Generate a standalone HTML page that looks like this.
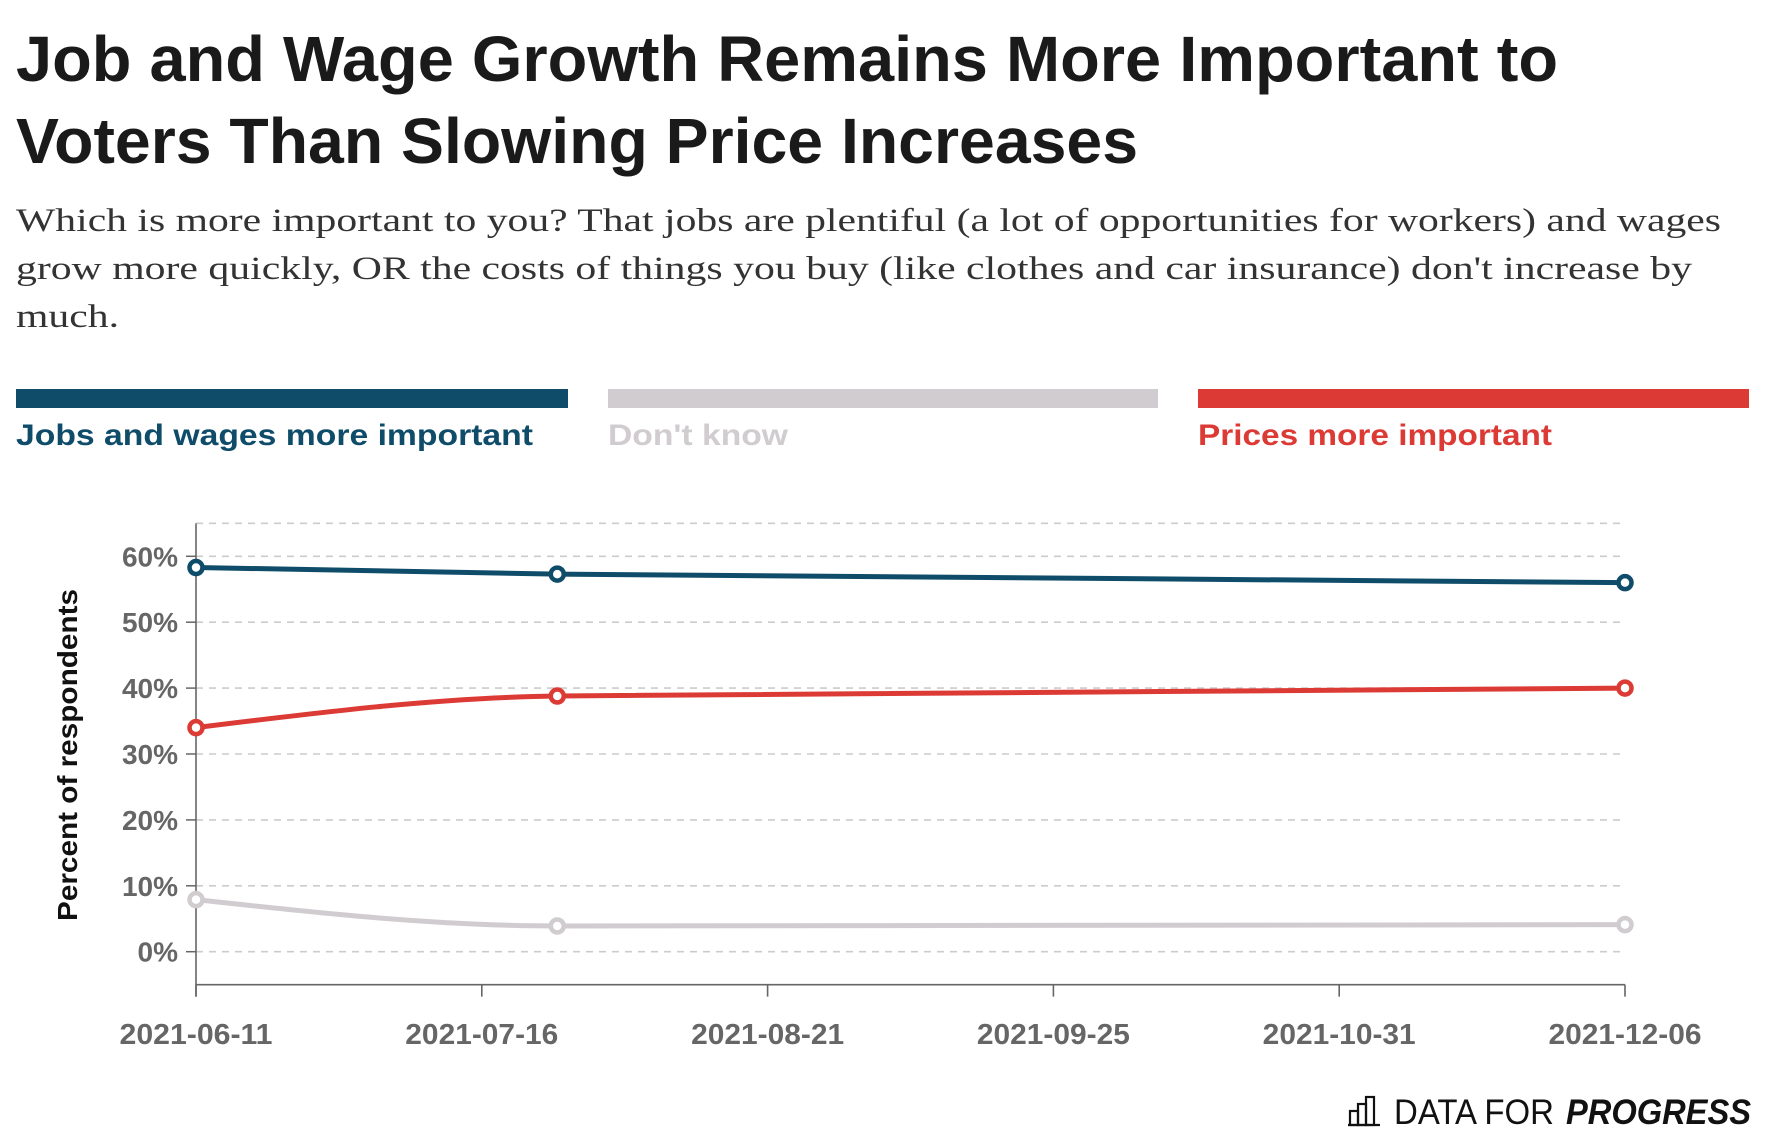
<!DOCTYPE html>
<html><head><meta charset="utf-8"><style>
html,body{margin:0;padding:0;background:#fff;}
svg{display:block;font-family:"Liberation Sans",sans-serif;}
</style></head><body>
<svg id="chart" width="1766" height="1144" viewBox="0 0 1766 1144">
<g font-weight="bold" font-size="64" fill="#1a1a1a">
<text x="16" y="81" textLength="1542" lengthAdjust="spacingAndGlyphs">Job and Wage Growth Remains More Important to</text>
<text x="16" y="163" textLength="1122" lengthAdjust="spacingAndGlyphs">Voters Than Slowing Price Increases</text>
</g>
<g font-family="'Liberation Serif',serif" font-size="33" fill="#333">
<text x="16" y="231" textLength="1705" lengthAdjust="spacingAndGlyphs">Which is more important to you? That jobs are plentiful (a lot of opportunities for workers) and wages</text>
<text x="16" y="279" textLength="1676" lengthAdjust="spacingAndGlyphs">grow more quickly, OR the costs of things you buy (like clothes and car insurance) don't increase by</text>
<text x="16" y="327" textLength="103" lengthAdjust="spacingAndGlyphs">much.</text>
</g>
<g font-size="30" font-weight="bold">
<g><rect x="16" y="389" width="552" height="19" fill="#0f4c6a"/><text x="16" y="445" fill="#0f4c6a" textLength="517" lengthAdjust="spacingAndGlyphs">Jobs and wages more important</text></g>
<g><rect x="608" y="389" width="550" height="19" fill="#d0cccf"/><text x="608" y="445" fill="#d0cccf" textLength="180" lengthAdjust="spacingAndGlyphs">Don't know</text></g>
<g><rect x="1198" y="389" width="551" height="19" fill="#dc3a35"/><text x="1198" y="445" fill="#dc3a35" textLength="354" lengthAdjust="spacingAndGlyphs">Prices more important</text></g>
</g>
<g id="grid"></g>
<g id="axes"></g>
<g id="series"></g>
<text transform="translate(77,755) rotate(-90)" text-anchor="middle" font-size="28" font-weight="bold" fill="#111" textLength="332" lengthAdjust="spacingAndGlyphs">Percent of respondents</text>
<g>
<g fill="none" stroke="#111" stroke-width="2.2"><rect x="1350" y="1111" width="8" height="14"/><rect x="1358" y="1104" width="8" height="21"/><rect x="1366" y="1097" width="8" height="28"/><line x1="1348" y1="1125" x2="1380" y2="1125"/></g>
<text x="1394" y="1124" font-size="35" fill="#111" textLength="160" lengthAdjust="spacingAndGlyphs">DATA FOR</text>
<text x="1566" y="1124" font-size="35" font-weight="bold" font-style="italic" fill="#111" textLength="185" lengthAdjust="spacingAndGlyphs">PROGRESS</text>
</g>
</svg>
<script>
const dates = ["2021-06-11","2021-07-26","2021-12-06"];
const jobs = [58.3, 57.3, 56.0];
const dontKnow = [7.9, 3.9, 4.1];
const prices = [34.0, 38.8, 40.0];
const yTicks = [0,10,20,30,40,50,60];
const xTicks = ["2021-06-11","2021-07-16","2021-08-21","2021-09-25","2021-10-31","2021-12-06"];

const NS="http://www.w3.org/2000/svg";
const X0=196,X1=1625,Y0=951.7,PER=6.59;
const t0=Date.parse(xTicks[0]),t1=Date.parse(xTicks[xTicks.length-1]);
function xs(d){return X0+(Date.parse(d)-t0)/(t1-t0)*(X1-X0);}
function xTick(i){return X0+i/(xTicks.length-1)*(X1-X0);}
function ys(v){return Y0-v*PER;}
function mk(tag,attrs,parent){const e=document.createElementNS(NS,tag);for(const k in attrs)e.setAttribute(k,attrs[k]);parent.appendChild(e);return e;}
const grid=document.getElementById('grid'),axes=document.getElementById('axes'),series=document.getElementById('series');
const gl=[65].concat(yTicks);
gl.forEach(v=>{const l=mk('line',{x1:X0,x2:X1,y1:ys(v),y2:ys(v),stroke:'#cccccc','stroke-width':1.6,'stroke-dasharray':'7,6'},grid);

});
yTicks.forEach(v=>{mk('line',{x1:X0-10,x2:X0,y1:ys(v),y2:ys(v),stroke:'#666','stroke-width':1.5},axes);
const t=mk('text',{x:178,y:ys(v)+10,'text-anchor':'end','font-size':28,'font-weight':'bold',fill:'#666'},axes);t.textContent=v+'%';

});
const yb=ys(-5);
mk('line',{x1:X0,x2:X0,y1:ys(65),y2:yb+12,stroke:'#666','stroke-width':1.6},axes);
mk('line',{x1:X0,x2:X1,y1:yb,y2:yb,stroke:'#666','stroke-width':1.6},axes);
xTicks.forEach((d,i)=>{const x=xTick(i);mk('line',{x1:x,x2:x,y1:yb,y2:yb+12,stroke:'#666','stroke-width':1.6},axes);
const t=mk('text',{x:x,y:1044,'text-anchor':'middle','font-size':29,'font-weight':'bold',fill:'#666',textLength:153,lengthAdjust:'spacingAndGlyphs'},axes);t.textContent=d;

});
function monotone(px,py){const n=px.length,m=[],d=[];for(let i=0;i<n-1;i++)d.push((py[i+1]-py[i])/(px[i+1]-px[i]));
for(let i=0;i<n;i++){if(i==0)m.push(d[0]);else if(i==n-1)m.push(d[n-2]);else m.push(d[i-1]*d[i]<=0?0:2/(1/d[i-1]+1/d[i]));}
if(n>2){m[0]=(3*d[0]-m[1])/2;m[n-1]=(3*d[n-2]-m[n-2])/2;}
let p='M'+px[0]+','+py[0];for(let i=0;i<n-1;i++){const h=(px[i+1]-px[i])/3;p+=' C'+(px[i]+h)+','+(py[i]+m[i]*h)+' '+(px[i+1]-h)+','+(py[i+1]-m[i+1]*h)+' '+px[i+1]+','+py[i+1];}return p;}
[[dontKnow,'#d0cccf','dont-know'],[prices,'#dc3a35','prices'],[jobs,'#0f4c6a','jobs']].forEach(([vals,c,n])=>{
const px=dates.map(xs),py=vals.map(ys);
const p=mk('path',{d:monotone(px,py),fill:'none',stroke:c,'stroke-width':5},series);


px.forEach((x,i)=>{const ci=mk('circle',{cx:x,cy:py[i],r:6.5,fill:'#fff',stroke:c,'stroke-width':4.5},series);

});
});
</script>
</body></html>
